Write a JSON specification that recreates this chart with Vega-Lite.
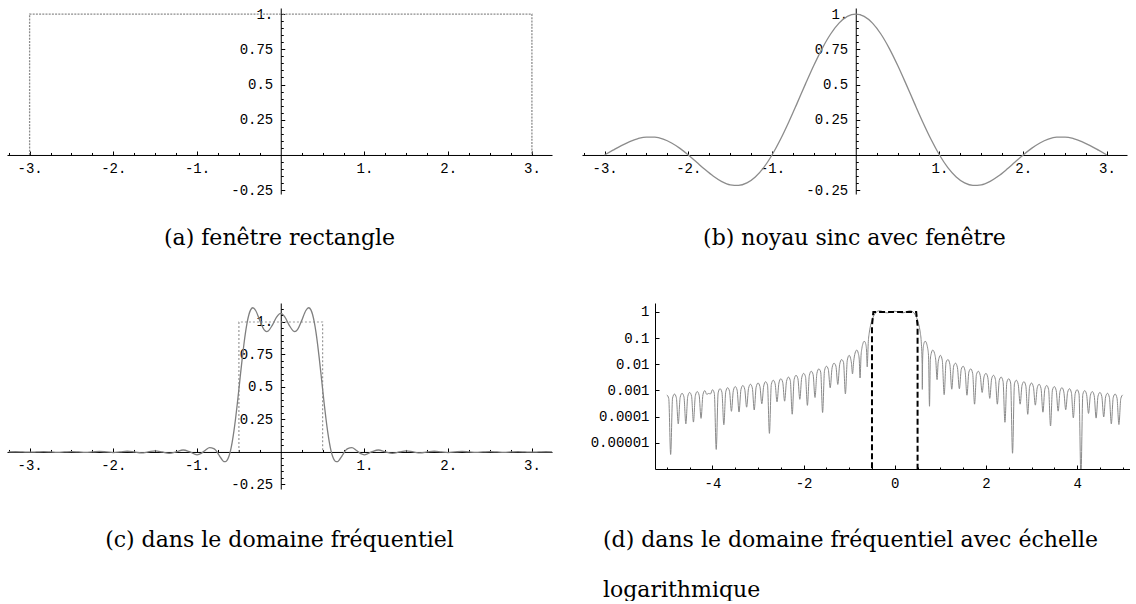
{
  "$schema": "https://vega.github.io/schema/vega-lite/v6.json",
  "padding": {"left": 7, "top": 7, "right": 0, "bottom": 0},
  "background": "white",
  "config": {
    "view": {"stroke": null},
    "axis": {
      "grid": false, "domainColor": "#000", "tickColor": "#000", "labelColor": "#000",
      "labelFont": "Liberation Mono", "labelFontSize": 14, "labelFlush": false,
      "labelOverlap": false, "tickWidth": 1, "domainWidth": 1
    },
    "title": {"font": "DejaVu Serif", "fontSize": 22, "fontWeight": "normal", "color": "#000"}
  },
  "datasets": {
    "win": [
      {"x": -3, "y": 0, "i": 0}, {"x": -3, "y": 1, "i": 1}, {"x": 3, "y": 1, "i": 2}, {"x": 3, "y": 0, "i": 3}
    ],
    "ideal": [
      {"x": -0.5, "y": 0, "i": 0}, {"x": -0.5, "y": 1, "i": 1}, {"x": 0.5, "y": 1, "i": 2}, {"x": 0.5, "y": 0, "i": 3}
    ],
    "idealLog": [
      {"x": -0.5, "y": 1e-7, "i": 0}, {"x": -0.5, "y": 0.3, "i": 1}, {"x": -0.47, "y": 1, "i": 2},
      {"x": 0.47, "y": 1, "i": 3}, {"x": 0.5, "y": 0.3, "i": 4}, {"x": 0.5, "y": 1e-7, "i": 5}
    ],
    "sinc": [
      {"x": -3, "y": 0}, {"x": -2.9, "y": 0.03392}, {"x": -2.8, "y": 0.06682}, {"x": -2.7, "y": 0.09538},
      {"x": -2.6, "y": 0.11643}, {"x": -2.5, "y": 0.12732}, {"x": -2.4, "y": 0.12614}, {"x": -2.3, "y": 0.11196},
      {"x": -2.2, "y": 0.08504}, {"x": -2.1, "y": 0.04684}, {"x": -2, "y": 0}, {"x": -1.9, "y": -0.05177},
      {"x": -1.8, "y": -0.10394}, {"x": -1.7, "y": -0.15148}, {"x": -1.6, "y": -0.18921}, {"x": -1.5, "y": -0.21221},
      {"x": -1.4, "y": -0.21624}, {"x": -1.3, "y": -0.19809}, {"x": -1.2, "y": -0.15591}, {"x": -1.1, "y": -0.08942},
      {"x": -1, "y": 0}, {"x": -0.9, "y": 0.10929}, {"x": -0.8, "y": 0.23387}, {"x": -0.7, "y": 0.36788},
      {"x": -0.6, "y": 0.50455}, {"x": -0.5, "y": 0.63662}, {"x": -0.4, "y": 0.75683}, {"x": -0.3, "y": 0.85839},
      {"x": -0.2, "y": 0.93549}, {"x": -0.1, "y": 0.98363}, {"x": 0, "y": 1},
      {"x": 0.1, "y": 0.98363}, {"x": 0.2, "y": 0.93549}, {"x": 0.3, "y": 0.85839}, {"x": 0.4, "y": 0.75683},
      {"x": 0.5, "y": 0.63662}, {"x": 0.6, "y": 0.50455}, {"x": 0.7, "y": 0.36788}, {"x": 0.8, "y": 0.23387},
      {"x": 0.9, "y": 0.10929}, {"x": 1, "y": 0}, {"x": 1.1, "y": -0.08942}, {"x": 1.2, "y": -0.15591},
      {"x": 1.3, "y": -0.19809}, {"x": 1.4, "y": -0.21624}, {"x": 1.5, "y": -0.21221}, {"x": 1.6, "y": -0.18921},
      {"x": 1.7, "y": -0.15148}, {"x": 1.8, "y": -0.10394}, {"x": 1.9, "y": -0.05177}, {"x": 2, "y": 0},
      {"x": 2.1, "y": 0.04684}, {"x": 2.2, "y": 0.08504}, {"x": 2.3, "y": 0.11196}, {"x": 2.4, "y": 0.12614},
      {"x": 2.5, "y": 0.12732}, {"x": 2.6, "y": 0.11643}, {"x": 2.7, "y": 0.09538}, {"x": 2.8, "y": 0.06682},
      {"x": 2.9, "y": 0.03392}, {"x": 3, "y": 0}
    ],
    "freq": [
      {"f": -3.25, "h": 0}, {"f": -3.1667, "h": 0.0017}, {"f": -3.0833, "h": 0}, {"f": -3, "h": -0.0019},
      {"f": -2.9167, "h": 0}, {"f": -2.8333, "h": 0.0022}, {"f": -2.75, "h": 0}, {"f": -2.6667, "h": -0.0025},
      {"f": -2.5833, "h": 0}, {"f": -2.5, "h": 0.0028}, {"f": -2.4167, "h": 0}, {"f": -2.3333, "h": -0.0033},
      {"f": -2.25, "h": 0}, {"f": -2.1667, "h": 0.0038}, {"f": -2.0833, "h": 0}, {"f": -2, "h": -0.0045},
      {"f": -1.9167, "h": 0}, {"f": -1.8333, "h": 0.0054}, {"f": -1.75, "h": 0}, {"f": -1.6667, "h": -0.0067},
      {"f": -1.5833, "h": 0}, {"f": -1.5, "h": 0.0084}, {"f": -1.4167, "h": 0}, {"f": -1.3333, "h": -0.011},
      {"f": -1.25, "h": 0}, {"f": -1.1667, "h": 0.0152}, {"f": -1.0833, "h": 0}, {"f": -1, "h": -0.0218},
      {"f": -0.95, "h": -0.011}, {"f": -0.9, "h": 0.0137}, {"f": -0.85, "h": 0.0335}, {"f": -0.8, "h": 0.026},
      {"f": -0.78, "h": 0.0157}, {"f": -0.76, "h": -0.0015}, {"f": -0.74, "h": -0.0217}, {"f": -0.72, "h": -0.0425},
      {"f": -0.7, "h": -0.0605}, {"f": -0.68, "h": -0.074}, {"f": -0.66, "h": -0.0743}, {"f": -0.64, "h": -0.0628},
      {"f": -0.62, "h": -0.0351}, {"f": -0.6, "h": 0.0106}, {"f": -0.58, "h": 0.0758}, {"f": -0.56, "h": 0.158},
      {"f": -0.54, "h": 0.2556}, {"f": -0.52, "h": 0.365}, {"f": -0.5, "h": 0.4832}, {"f": -0.48, "h": 0.6036},
      {"f": -0.46, "h": 0.7204}, {"f": -0.44, "h": 0.8287}, {"f": -0.42, "h": 0.9232}, {"f": -0.4, "h": 1.0003},
      {"f": -0.38, "h": 1.0573}, {"f": -0.36, "h": 1.0931}, {"f": -0.3333, "h": 1.1096}, {"f": -0.3, "h": 1.0884},
      {"f": -0.25, "h": 1.0104}, {"f": -0.2, "h": 0.9415}, {"f": -0.1667, "h": 0.9264}, {"f": -0.15, "h": 0.9306},
      {"f": -0.1, "h": 0.9763}, {"f": -0.05, "h": 1.0382}, {"f": 0, "h": 1.0662},
      {"f": 0.05, "h": 1.0382}, {"f": 0.1, "h": 0.9763}, {"f": 0.15, "h": 0.9306}, {"f": 0.1667, "h": 0.9264},
      {"f": 0.2, "h": 0.9415}, {"f": 0.25, "h": 1.0104}, {"f": 0.3, "h": 1.0884}, {"f": 0.3333, "h": 1.1096},
      {"f": 0.36, "h": 1.0931}, {"f": 0.38, "h": 1.0573}, {"f": 0.4, "h": 1.0003}, {"f": 0.42, "h": 0.9232},
      {"f": 0.44, "h": 0.8287}, {"f": 0.46, "h": 0.7204}, {"f": 0.48, "h": 0.6036}, {"f": 0.5, "h": 0.4832},
      {"f": 0.52, "h": 0.365}, {"f": 0.54, "h": 0.2556}, {"f": 0.56, "h": 0.158}, {"f": 0.58, "h": 0.0758},
      {"f": 0.6, "h": 0.0106}, {"f": 0.62, "h": -0.0351}, {"f": 0.64, "h": -0.0628}, {"f": 0.66, "h": -0.0743},
      {"f": 0.68, "h": -0.074}, {"f": 0.7, "h": -0.0605}, {"f": 0.72, "h": -0.0425}, {"f": 0.74, "h": -0.0217},
      {"f": 0.76, "h": -0.0015}, {"f": 0.78, "h": 0.0157}, {"f": 0.8, "h": 0.026}, {"f": 0.85, "h": 0.0335},
      {"f": 0.9, "h": 0.0137}, {"f": 0.95, "h": -0.011}, {"f": 1, "h": -0.0218}, {"f": 1.0833, "h": 0},
      {"f": 1.1667, "h": 0.0152}, {"f": 1.25, "h": 0}, {"f": 1.3333, "h": -0.011}, {"f": 1.4167, "h": 0},
      {"f": 1.5, "h": 0.0084}, {"f": 1.5833, "h": 0}, {"f": 1.6667, "h": -0.0067}, {"f": 1.75, "h": 0},
      {"f": 1.8333, "h": 0.0054}, {"f": 1.9167, "h": 0}, {"f": 2, "h": -0.0045}, {"f": 2.0833, "h": 0},
      {"f": 2.1667, "h": 0.0038}, {"f": 2.25, "h": 0}, {"f": 2.3333, "h": -0.0033}, {"f": 2.4167, "h": 0},
      {"f": 2.5, "h": 0.0028}, {"f": 2.5833, "h": 0}, {"f": 2.6667, "h": -0.0025}, {"f": 2.75, "h": 0},
      {"f": 2.8333, "h": 0.0022}, {"f": 2.9167, "h": 0}, {"f": 3, "h": -0.0019}, {"f": 3.0833, "h": 0},
      {"f": 3.1667, "h": 0.0017}, {"f": 3.25, "h": 0}
    ],
    "mag": [
      {"f": -5, "a": 0.00068}, {"f": -4.9583, "a": 0.00049}, {"f": -4.9167, "a": 0.0000036}, {"f": -4.875, "a": 0.00051},
      {"f": -4.8333, "a": 0.00073}, {"f": -4.7917, "a": 0.00053}, {"f": -4.75, "a": 0.000053}, {"f": -4.7083, "a": 0.00054},
      {"f": -4.6667, "a": 0.00078}, {"f": -4.625, "a": 0.00057}, {"f": -4.5833, "a": 0.000053}, {"f": -4.5417, "a": 0.00059},
      {"f": -4.5, "a": 0.00084}, {"f": -4.4583, "a": 0.00061}, {"f": -4.4167, "a": 0.000062}, {"f": -4.375, "a": 0.00063},
      {"f": -4.3333, "a": 0.00091}, {"f": -4.2917, "a": 0.00066}, {"f": -4.25, "a": 0.000086}, {"f": -4.2083, "a": 0.00069},
      {"f": -4.1667, "a": 0.00099}, {"f": -4.125, "a": 0.00071}, {"f": -4.0833, "a": 0.00077}, {"f": -4.0417, "a": 0.00074},
      {"f": -4, "a": 0.00107}, {"f": -3.9583, "a": 0.00077}, {"f": -3.9167, "a": 0.0000056}, {"f": -3.875, "a": 0.00081},
      {"f": -3.8333, "a": 0.00117}, {"f": -3.7917, "a": 0.00085}, {"f": -3.75, "a": 0.000049}, {"f": -3.7083, "a": 0.00088},
      {"f": -3.6667, "a": 0.00128}, {"f": -3.625, "a": 0.00093}, {"f": -3.5833, "a": 0.00016}, {"f": -3.5417, "a": 0.00098},
      {"f": -3.5, "a": 0.00141}, {"f": -3.4583, "a": 0.00103}, {"f": -3.4167, "a": 0.00015}, {"f": -3.375, "a": 0.00107},
      {"f": -3.3333, "a": 0.00155}, {"f": -3.2917, "a": 0.00112}, {"f": -3.25, "a": 0.00023}, {"f": -3.2083, "a": 0.00119},
      {"f": -3.1667, "a": 0.00173}, {"f": -3.125, "a": 0.00126}, {"f": -3.0833, "a": 0.00018}, {"f": -3.0417, "a": 0.00133},
      {"f": -3, "a": 0.00193}, {"f": -2.9583, "a": 0.00141}, {"f": -2.9167, "a": 0.00031}, {"f": -2.875, "a": 0.00149},
      {"f": -2.8333, "a": 0.00217}, {"f": -2.7917, "a": 0.00159}, {"f": -2.75, "a": 0.000023}, {"f": -2.7083, "a": 0.00169},
      {"f": -2.6667, "a": 0.00246}, {"f": -2.625, "a": 0.0018}, {"f": -2.5833, "a": 0.00037}, {"f": -2.5417, "a": 0.00193},
      {"f": -2.5, "a": 0.00281}, {"f": -2.4583, "a": 0.00206}, {"f": -2.4167, "a": 0.00039}, {"f": -2.375, "a": 0.00222},
      {"f": -2.3333, "a": 0.00325}, {"f": -2.2917, "a": 0.0024}, {"f": -2.25, "a": 0.000124}, {"f": -2.2083, "a": 0.00259},
      {"f": -2.1667, "a": 0.0038}, {"f": -2.125, "a": 0.00281}, {"f": -2.0833, "a": 0.00046}, {"f": -2.0417, "a": 0.00306},
      {"f": -2, "a": 0.0045}, {"f": -1.9583, "a": 0.00335}, {"f": -1.9167, "a": 0.00027}, {"f": -1.875, "a": 0.00368},
      {"f": -1.8333, "a": 0.00542}, {"f": -1.7917, "a": 0.00406}, {"f": -1.75, "a": 0.00054}, {"f": -1.7083, "a": 0.0045},
      {"f": -1.6667, "a": 0.00668}, {"f": -1.625, "a": 0.00503}, {"f": -1.5833, "a": 0.000144}, {"f": -1.5417, "a": 0.00566},
      {"f": -1.5, "a": 0.00844}, {"f": -1.4583, "a": 0.00643}, {"f": -1.4167, "a": 0.00127}, {"f": -1.375, "a": 0.00735},
      {"f": -1.3333, "a": 0.01105}, {"f": -1.2917, "a": 0.00855}, {"f": -1.25, "a": 0.0017}, {"f": -1.2083, "a": 0.01001},
      {"f": -1.1667, "a": 0.01519}, {"f": -1.125, "a": 0.01194}, {"f": -1.0833, "a": 0.00074}, {"f": -1.0417, "a": 0.01435},
      {"f": -1, "a": 0.022}, {"f": -0.97, "a": 0.017}, {"f": -0.95, "a": 0.011}, {"f": -0.9277, "a": 0.0043},
      {"f": -0.9, "a": 0.0137}, {"f": -0.87, "a": 0.027}, {"f": -0.8333, "a": 0.035}, {"f": -0.8, "a": 0.026},
      {"f": -0.78, "a": 0.0157}, {"f": -0.7617, "a": 0.003}, {"f": -0.74, "a": 0.0217}, {"f": -0.72, "a": 0.0425},
      {"f": -0.7, "a": 0.0605}, {"f": -0.68, "a": 0.074}, {"f": -0.66, "a": 0.0743}, {"f": -0.64, "a": 0.0628},
      {"f": -0.62, "a": 0.0351}, {"f": -0.61, "a": 0.0123}, {"f": -0.6046, "a": 0.008}, {"f": -0.6, "a": 0.0106},
      {"f": -0.58, "a": 0.0758}, {"f": -0.56, "a": 0.158}, {"f": -0.54, "a": 0.2556}, {"f": -0.52, "a": 0.365},
      {"f": -0.5, "a": 0.4832}, {"f": -0.48, "a": 0.6036}, {"f": -0.46, "a": 0.7204}, {"f": -0.44, "a": 0.8287},
      {"f": -0.42, "a": 0.9232}, {"f": -0.4, "a": 1.0003}, {"f": -0.38, "a": 1.0573}, {"f": -0.36, "a": 1.0931},
      {"f": -0.3333, "a": 1.1096}, {"f": -0.3, "a": 1.0884}, {"f": -0.25, "a": 1.0104}, {"f": -0.2, "a": 0.9415},
      {"f": -0.1667, "a": 0.9264}, {"f": -0.1, "a": 0.9763}, {"f": 0, "a": 1.0662}, {"f": 0.1, "a": 0.9763},
      {"f": 0.1667, "a": 0.9264}, {"f": 0.2, "a": 0.9415}, {"f": 0.25, "a": 1.0104}, {"f": 0.3, "a": 1.0884},
      {"f": 0.3333, "a": 1.1096}, {"f": 0.36, "a": 1.0931}, {"f": 0.38, "a": 1.0573}, {"f": 0.4, "a": 1.0003},
      {"f": 0.42, "a": 0.9232}, {"f": 0.44, "a": 0.8287}, {"f": 0.46, "a": 0.7204}, {"f": 0.48, "a": 0.6036},
      {"f": 0.5, "a": 0.4832}, {"f": 0.52, "a": 0.365}, {"f": 0.54, "a": 0.2556}, {"f": 0.56, "a": 0.158},
      {"f": 0.58, "a": 0.0758}, {"f": 0.6, "a": 0.0106}, {"f": 0.6046, "a": 0.0011}, {"f": 0.61, "a": 0.0123},
      {"f": 0.62, "a": 0.0351}, {"f": 0.64, "a": 0.0628}, {"f": 0.66, "a": 0.0743}, {"f": 0.68, "a": 0.074},
      {"f": 0.7, "a": 0.0605}, {"f": 0.72, "a": 0.0425}, {"f": 0.74, "a": 0.0217}, {"f": 0.7617, "a": 0.00025},
      {"f": 0.78, "a": 0.0157}, {"f": 0.8, "a": 0.026}, {"f": 0.8333, "a": 0.035}, {"f": 0.87, "a": 0.027},
      {"f": 0.9, "a": 0.0137}, {"f": 0.9277, "a": 0.0026}, {"f": 0.95, "a": 0.011}, {"f": 0.97, "a": 0.017},
      {"f": 1, "a": 0.022}, {"f": 1.0417, "a": 0.01435}, {"f": 1.0833, "a": 0.00069}, {"f": 1.125, "a": 0.01194},
      {"f": 1.1667, "a": 0.01519}, {"f": 1.2083, "a": 0.01001}, {"f": 1.25, "a": 0.00112}, {"f": 1.2917, "a": 0.00855},
      {"f": 1.3333, "a": 0.01105}, {"f": 1.375, "a": 0.00735}, {"f": 1.4167, "a": 0.00117}, {"f": 1.4583, "a": 0.00643},
      {"f": 1.5, "a": 0.00844}, {"f": 1.5417, "a": 0.00566}, {"f": 1.5833, "a": 0.00066}, {"f": 1.625, "a": 0.00503},
      {"f": 1.6667, "a": 0.00668}, {"f": 1.7083, "a": 0.0045}, {"f": 1.75, "a": 0.0003}, {"f": 1.7917, "a": 0.00406},
      {"f": 1.8333, "a": 0.00542}, {"f": 1.875, "a": 0.00368}, {"f": 1.9167, "a": 0.00084}, {"f": 1.9583, "a": 0.00335},
      {"f": 2, "a": 0.0045}, {"f": 2.0417, "a": 0.00306}, {"f": 2.0833, "a": 0.0005}, {"f": 2.125, "a": 0.00281},
      {"f": 2.1667, "a": 0.0038}, {"f": 2.2083, "a": 0.00259}, {"f": 2.25, "a": 0.0003}, {"f": 2.2917, "a": 0.0024},
      {"f": 2.3333, "a": 0.00325}, {"f": 2.375, "a": 0.00222}, {"f": 2.4167, "a": 0.000061}, {"f": 2.4583, "a": 0.00206},
      {"f": 2.5, "a": 0.00281}, {"f": 2.5417, "a": 0.00193}, {"f": 2.5833, "a": 0.000004}, {"f": 2.625, "a": 0.0018},
      {"f": 2.6667, "a": 0.00246}, {"f": 2.7083, "a": 0.00169}, {"f": 2.75, "a": 0.0003}, {"f": 2.7917, "a": 0.00159},
      {"f": 2.8333, "a": 0.00217}, {"f": 2.875, "a": 0.00149}, {"f": 2.9167, "a": 0.000123}, {"f": 2.9583, "a": 0.00141},
      {"f": 3, "a": 0.00193}, {"f": 3.0417, "a": 0.00133}, {"f": 3.0833, "a": 0.000275}, {"f": 3.125, "a": 0.00126},
      {"f": 3.1667, "a": 0.00173}, {"f": 3.2083, "a": 0.00119}, {"f": 3.25, "a": 0.000148}, {"f": 3.2917, "a": 0.00112},
      {"f": 3.3333, "a": 0.00155}, {"f": 3.375, "a": 0.00107}, {"f": 3.4167, "a": 0.000044}, {"f": 3.4583, "a": 0.00103},
      {"f": 3.5, "a": 0.00141}, {"f": 3.5417, "a": 0.00098}, {"f": 3.5833, "a": 0.000162}, {"f": 3.625, "a": 0.00093},
      {"f": 3.6667, "a": 0.00128}, {"f": 3.7083, "a": 0.00088}, {"f": 3.75, "a": 0.000185}, {"f": 3.7917, "a": 0.00085},
      {"f": 3.8333, "a": 0.00117}, {"f": 3.875, "a": 0.00081}, {"f": 3.9167, "a": 0.00009}, {"f": 3.9583, "a": 0.00077},
      {"f": 4, "a": 0.00107}, {"f": 4.0417, "a": 0.00074}, {"f": 4.0833, "a": 0.0000005}, {"f": 4.125, "a": 0.00071},
      {"f": 4.1667, "a": 0.00099}, {"f": 4.2083, "a": 0.00069}, {"f": 4.25, "a": 0.000133}, {"f": 4.2917, "a": 0.00066},
      {"f": 4.3333, "a": 0.00091}, {"f": 4.375, "a": 0.00063}, {"f": 4.4167, "a": 0.000088}, {"f": 4.4583, "a": 0.00061},
      {"f": 4.5, "a": 0.00084}, {"f": 4.5417, "a": 0.00059}, {"f": 4.5833, "a": 0.000097}, {"f": 4.625, "a": 0.00057},
      {"f": 4.6667, "a": 0.00078}, {"f": 4.7083, "a": 0.00054}, {"f": 4.75, "a": 0.000053}, {"f": 4.7917, "a": 0.00053},
      {"f": 4.8333, "a": 0.00073}, {"f": 4.875, "a": 0.00051}, {"f": 4.9167, "a": 0.00005}, {"f": 4.9583, "a": 0.00049},
      {"f": 5, "a": 0.00068}
    ]
  },
  "spacing": 53,
  "vconcat": [
    {
      "bounds": "flush",
      "spacing": 30,
      "hconcat": [
        {
          "width": 545, "height": 186,
          "title": {"text": "(a) fenêtre rectangle", "orient": "bottom", "anchor": "middle", "frame": "group", "offset": 31},
          "layer": [
            {
              "data": {"name": "win"},
              "mark": {"type": "line", "stroke": "#8c8c8c", "strokeWidth": 1.3, "strokeDash": [2, 1.2], "clip": true},
              "encoding": {
                "x": {"field": "x", "type": "quantitative", "scale": {"domain": [-3.27, 3.24], "nice": false, "zero": false},
                  "axis": {"orient": "bottom", "offset": -39.03, "title": null, "values": [-3, -2, -1, 1, 2, 3],
                    "labelExpr": "(datum.value < 0 ? '-' : '') + abs(datum.value) + '.'", "tickSize": -4, "labelPadding": 11}},
                "y": {"field": "y", "type": "quantitative", "scale": {"domain": [-0.277, 1.043], "nice": false, "zero": false},
                  "axis": {"orient": "left", "offset": -273.75, "title": null, "values": [-0.25, 0.25, 0.5, 0.75, 1],
                    "labelExpr": "datum.value == 1 ? '1.' : (datum.value < 0 ? '-' : '') + abs(datum.value)", "tickSize": -4, "labelPadding": 12}},
                "order": {"field": "i", "type": "quantitative"}
              }
            },
            {
              "data": {"name": "win"},
              "mark": {"type": "line", "opacity": 0},
              "encoding": {
                "x": {"field": "x", "type": "quantitative",
                  "axis": {"orient": "bottom", "offset": -39.03, "title": null, "labels": false, "domain": false, "tickSize": -2.5,
                    "values": [-3.25, -2.75, -2.5, -2.25, -1.75, -1.5, -1.25, -0.75, -0.5, -0.25, 0.25, 0.5, 0.75, 1.25, 1.5, 1.75, 2.25, 2.5, 2.75]}},
                "y": {"field": "y", "type": "quantitative",
                  "axis": {"orient": "left", "offset": -273.75, "title": null, "labels": false, "domain": false, "tickSize": -2.5,
                    "values": [-0.2, -0.15, -0.1, -0.05, 0.05, 0.1, 0.15, 0.2, 0.3, 0.35, 0.4, 0.45, 0.55, 0.6, 0.65, 0.7, 0.8, 0.85, 0.9, 0.95]}},
                "order": {"field": "i", "type": "quantitative"}
              }
            }
          ],
          "resolve": {"axis": {"x": "independent", "y": "independent"}}
        },
        {
          "width": 545, "height": 186,
          "title": {"text": "(b) noyau sinc avec fenêtre", "orient": "bottom", "anchor": "middle", "frame": "group", "offset": 31},
          "layer": [
            {
              "data": {"name": "sinc"},
              "mark": {"type": "line", "stroke": "#8c8c8c", "strokeWidth": 1.3, "interpolate": "monotone", "clip": true},
              "encoding": {
                "x": {"field": "x", "type": "quantitative", "scale": {"domain": [-3.27, 3.24], "nice": false, "zero": false},
                  "axis": {"orient": "bottom", "offset": -39.03, "title": null, "values": [-3, -2, -1, 1, 2, 3],
                    "labelExpr": "(datum.value < 0 ? '-' : '') + abs(datum.value) + '.'", "tickSize": -4, "labelPadding": 11}},
                "y": {"field": "y", "type": "quantitative", "scale": {"domain": [-0.277, 1.043], "nice": false, "zero": false},
                  "axis": {"orient": "left", "offset": -273.75, "title": null, "values": [-0.25, 0.25, 0.5, 0.75, 1],
                    "labelExpr": "datum.value == 1 ? '1.' : (datum.value < 0 ? '-' : '') + abs(datum.value)", "tickSize": -4, "labelPadding": 12}}
              }
            },
            {
              "data": {"name": "sinc"},
              "mark": {"type": "line", "opacity": 0},
              "encoding": {
                "x": {"field": "x", "type": "quantitative",
                  "axis": {"orient": "bottom", "offset": -39.03, "title": null, "labels": false, "domain": false, "tickSize": -2.5,
                    "values": [-3.25, -2.75, -2.5, -2.25, -1.75, -1.5, -1.25, -0.75, -0.5, -0.25, 0.25, 0.5, 0.75, 1.25, 1.5, 1.75, 2.25, 2.5, 2.75]}},
                "y": {"field": "y", "type": "quantitative",
                  "axis": {"orient": "left", "offset": -273.75, "title": null, "labels": false, "domain": false, "tickSize": -2.5,
                    "values": [-0.2, -0.15, -0.1, -0.05, 0.05, 0.1, 0.15, 0.2, 0.3, 0.35, 0.4, 0.45, 0.55, 0.6, 0.65, 0.7, 0.8, 0.85, 0.9, 0.95]}}
              }
            }
          ],
          "resolve": {"axis": {"x": "independent", "y": "independent"}}
        }
      ]
    },
    {
      "bounds": "flush",
      "spacing": 103,
      "hconcat": [
        {
          "width": 545, "height": 186,
          "title": {"text": "(c) dans le domaine fréquentiel", "orient": "bottom", "anchor": "middle", "frame": "group", "offset": 39},
          "layer": [
            {
              "data": {"name": "ideal"},
              "mark": {"type": "line", "stroke": "#999999", "strokeWidth": 1.2, "strokeDash": [2, 2], "clip": true},
              "encoding": {
                "x": {"field": "x", "type": "quantitative", "scale": {"domain": [-3.27, 3.24], "nice": false, "zero": false},
                  "axis": {"orient": "bottom", "offset": -37.04, "title": null, "values": [-3, -2, -1, 1, 2, 3],
                    "labelExpr": "(datum.value < 0 ? '-' : '') + abs(datum.value) + '.'", "tickSize": -4, "labelPadding": 11}},
                "y": {"field": "y", "type": "quantitative", "scale": {"domain": [-0.285, 1.146], "nice": false, "zero": false},
                  "axis": {"orient": "left", "offset": -273.75, "title": null, "values": [-0.25, 0.25, 0.5, 0.75, 1],
                    "labelExpr": "datum.value == 1 ? '1.' : (datum.value < 0 ? '-' : '') + abs(datum.value)", "tickSize": -4, "labelPadding": 12}},
                "order": {"field": "i", "type": "quantitative"}
              }
            },
            {
              "data": {"name": "freq"},
              "mark": {"type": "line", "stroke": "#7f7f7f", "strokeWidth": 1.3, "interpolate": "monotone", "clip": true},
              "encoding": {
                "x": {"field": "f", "type": "quantitative", "axis": null},
                "y": {"field": "h", "type": "quantitative", "axis": null}
              }
            },
            {
              "data": {"name": "ideal"},
              "mark": {"type": "line", "opacity": 0},
              "encoding": {
                "x": {"field": "x", "type": "quantitative",
                  "axis": {"orient": "bottom", "offset": -37.04, "title": null, "labels": false, "domain": false, "tickSize": -2.5,
                    "values": [-3.25, -2.75, -2.5, -2.25, -1.75, -1.5, -1.25, -0.75, -0.5, -0.25, 0.25, 0.5, 0.75, 1.25, 1.5, 1.75, 2.25, 2.5, 2.75]}},
                "y": {"field": "y", "type": "quantitative",
                  "axis": {"orient": "left", "offset": -273.75, "title": null, "labels": false, "domain": false, "tickSize": -2.5,
                    "values": [-0.2, -0.15, -0.1, -0.05, 0.05, 0.1, 0.15, 0.2, 0.3, 0.35, 0.4, 0.45, 0.55, 0.6, 0.65, 0.7, 0.8, 0.85, 0.9, 0.95, 1.05, 1.1]}},
                "order": {"field": "i", "type": "quantitative"}
              }
            }
          ],
          "resolve": {"axis": {"x": "independent", "y": "independent"}}
        },
        {
          "width": 475, "height": 166,
          "title": {"text": ["(d) dans le domaine fréquentiel avec échelle", "logarithmique"], "orient": "bottom", "anchor": "start",
            "frame": "group", "offset": 40, "dx": -52, "lineHeight": 50},
          "layer": [
            {
              "data": {"name": "mag"},
              "mark": {"type": "line", "stroke": "#8a8a8a", "strokeWidth": 1, "interpolate": "monotone", "clip": true},
              "encoding": {
                "x": {"field": "f", "type": "quantitative", "scale": {"domain": [-5.26, 5.16], "nice": false, "zero": false},
                  "axis": {"orient": "bottom", "title": null, "values": [-4, -2, 0, 2, 4],
                    "labelExpr": "(datum.value < 0 ? '-' : '') + abs(datum.value)", "tickSize": -4, "labelPadding": 11}},
                "y": {"field": "a", "type": "quantitative", "scale": {"type": "log", "domain": [0.000001, 2.2], "nice": false},
                  "axis": {"orient": "left", "title": null, "values": [0.00001, 0.0001, 0.001, 0.01, 0.1, 1],
                    "format": ".5~f", "tickSize": -4, "labelPadding": 10}}
              }
            },
            {
              "data": {"name": "idealLog"},
              "mark": {"type": "line", "stroke": "#000", "strokeWidth": 2, "strokeDash": [6, 3], "clip": true},
              "encoding": {
                "x": {"field": "x", "type": "quantitative", "axis": null},
                "y": {"field": "y", "type": "quantitative", "axis": null},
                "order": {"field": "i", "type": "quantitative"}
              }
            },
            {
              "data": {"name": "idealLog"},
              "mark": {"type": "line", "opacity": 0, "clip": true},
              "encoding": {
                "x": {"field": "x", "type": "quantitative",
                  "axis": {"orient": "bottom", "title": null, "labels": false, "domain": false, "tickSize": -2,
                    "values": [-5, -4.5, -3.5, -3, -2.5, -1.5, -1, -0.5, 0.5, 1, 1.5, 2.5, 3, 3.5, 4.5, 5]}},
                "y": {"field": "y", "type": "quantitative", "axis": null},
                "order": {"field": "i", "type": "quantitative"}
              }
            }
          ],
          "resolve": {"axis": {"x": "independent", "y": "independent"}}
        }
      ]
    }
  ]
}
